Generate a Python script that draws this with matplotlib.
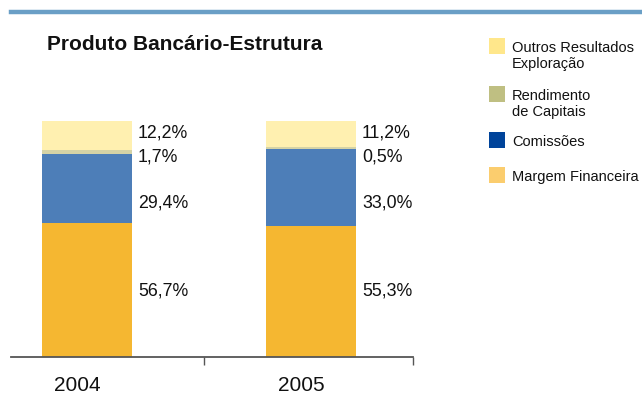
import matplotlib.pyplot as plt
from matplotlib.lines import Line2D
from matplotlib.patches import Rectangle

plt.rcParams['font.family'] = ['Liberation Sans', 'DejaVu Sans']

anos = ['2004', '2005']
series = ['Margem Financeira', 'Comissões', 'Rendimento\nde Capitais', 'Outros Resultados\nExploração']
margem = [56.7, 55.3]
comissoes = [29.4, 33.0]
rendimento = [1.7, 0.5]
outros = [12.2, 11.2]
valores = [margem, comissoes, rendimento, outros]

cor_barra = ['#F5B731', '#4D7EB8', '#D5D3A6', '#FFF0B0']
cor_legenda = ['#FBCD6E', '#00449A', '#BFBF82', '#FFE78B']
label_y = [28.0, 65.3, 84.7, 94.9]

W, H = 642, 401
fig = plt.figure(figsize=(W / 100, H / 100), dpi=100)
ax = fig.add_axes([11 / W, (H - 357) / H, 402 / W, 236 / H])

x = range(len(anos))
larg = 90 / 224
base = [0, 0]
for k, s in enumerate(series):
    ax.bar(x, valores[k], larg, bottom=base, color=cor_barra[k], linewidth=0)
    for i in x:
        ax.text(i + larg / 2 + 6 / 224, label_y[k], f'{valores[k][i]:.1f}%'.replace('.', ','),
                fontsize=12.8, va='center', ha='left', color='#111111')
    base = [b + v for b, v in zip(base, valores[k])]

ax.set_xlim(-76 / 224, 326 / 224)
ax.set_ylim(0, 100)
for s in ['top', 'right', 'left']:
    ax.spines[s].set_visible(False)
ax.spines['bottom'].set_color('#555555')
ax.spines['bottom'].set_linewidth(1.3)
ax.set_yticks([])
ax.set_xticks([117 / 224, 326 / 224 - 0.002])
ax.set_xticklabels([])
ax.tick_params(axis='x', length=6, width=1, color='#555555', direction='out')
for i in x:
    ax.text(i - 10 / 224, -12, anos[i], fontsize=15, ha='center', va='center', color='#111111')

# linha azul no topo
fig.add_artist(Line2D([11 / W, 1], [1 - 11.5 / H, 1 - 11.5 / H], color='#6A9FC6', lw=3.2))

fig.text(47 / W, 1 - 45 / H, 'Produto Bancário-Estrutura', fontsize=15, fontweight='bold',
         ha='left', va='center', color='#111111')

# legenda manual
topos = [167, 132, 86, 38]
for k, s in enumerate(series):
    t = topos[k]
    fig.add_artist(Rectangle((489 / W, 1 - (t + 16) / H), 16 / W, 16 / H,
                             transform=fig.transFigure, color=cor_legenda[k], lw=0))
    fig.text(512 / W, 1 - (t + 3) / H, s, fontsize=10.5, ha='left', va='top',
             linespacing=1.22, color='#111111')

fig.savefig('out.png', dpi=100)
